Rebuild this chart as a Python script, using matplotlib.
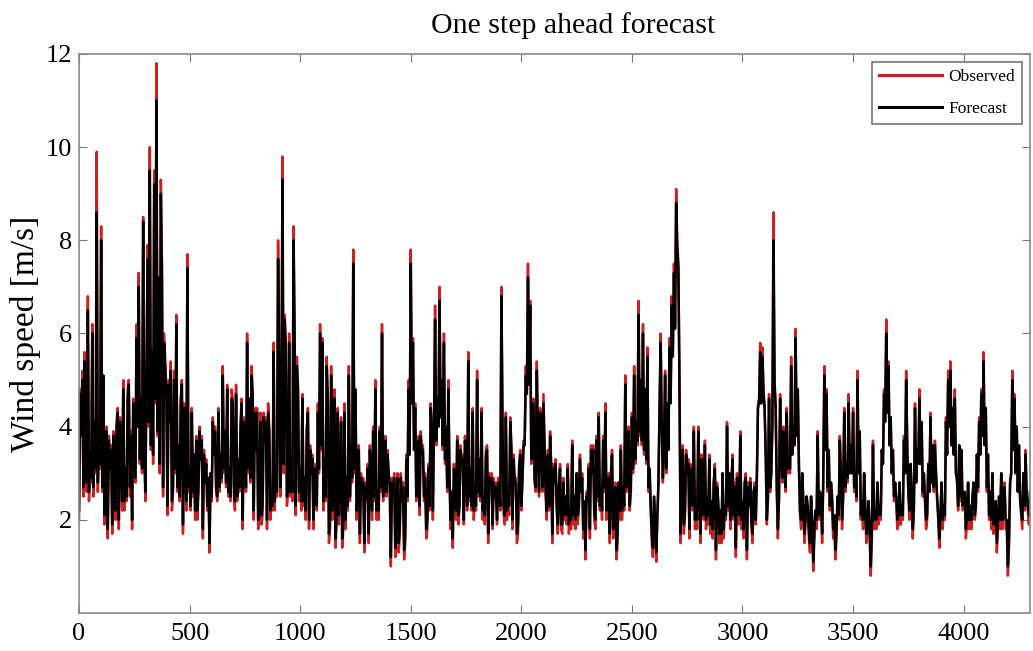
import numpy as np
import matplotlib
matplotlib.use('Agg')
import matplotlib.pyplot as plt

# readings every 10 time steps, plus the in-between readings at +5
step = 10

observed = [
    2.0, 4.0, 2.5, 4.6, 6.8, 3.2, 6.2, 4.0, 9.9, 3.5,
    8.3, 5.0, 2.4, 1.6, 3.2, 1.7, 3.0, 4.1, 1.8, 3.5,
    5.0, 3.0, 4.8, 2.5, 1.8, 3.8, 6.2, 7.3, 4.5, 8.5,
    2.4, 7.9, 10.0, 5.5, 9.5, 11.8, 7.0, 9.3, 2.5, 5.4,
    2.1, 4.2, 2.2, 5.2, 6.4, 3.5, 4.6, 1.7, 3.2, 7.7,
    3.0, 4.4, 3.3, 3.8, 2.6, 3.4, 1.6, 2.8, 2.2, 1.3,
    2.4, 3.5, 2.6, 4.4, 3.3, 5.3, 3.8, 4.9, 3.0, 4.8,
    2.6, 4.9, 3.2, 4.0, 1.8, 3.5, 6.0, 4.5, 5.3, 2.0,
    3.6, 1.8, 4.3, 2.1, 3.8, 1.8, 4.0, 2.4, 5.8, 3.0,
    8.0, 2.5, 9.8, 6.4, 2.3, 6.0, 3.0, 8.3, 2.1, 4.9,
    3.0, 4.7, 2.8, 4.0, 1.8, 3.0, 1.8, 2.8, 4.5, 6.2,
    5.9, 3.2, 5.5, 1.5, 5.3, 4.3, 1.4, 4.4, 2.8, 1.4,
    4.5, 2.8, 5.3, 3.5, 7.8, 4.7, 2.4, 1.5, 2.6, 1.3,
    2.4, 1.5, 3.0, 4.0, 5.0, 2.5, 4.0, 6.2, 3.3, 2.5,
    3.0, 1.0, 2.6, 1.2, 3.0, 1.6, 2.4, 1.15, 3.4, 5.0,
    7.8, 5.9, 4.5, 3.4, 2.1, 3.5, 2.4, 1.6, 3.2, 4.5,
    2.0, 6.6, 4.5, 7.0, 5.0, 6.0, 3.9, 5.0, 1.8, 1.4,
    2.8, 3.8, 2.2, 3.2, 1.9, 3.5, 5.6, 3.0, 4.4, 2.5,
    5.2, 3.2, 4.4, 2.4, 3.5, 1.5, 2.8, 1.8, 2.5, 1.9,
    2.6, 7.0, 2.1, 4.3, 2.5, 4.2, 1.8, 2.8, 1.5, 3.2,
    2.2, 3.7, 5.3, 7.5, 6.7, 4.4, 2.8, 5.4, 2.5, 4.0,
    4.7, 2.5, 3.5, 3.9, 1.5, 2.8, 2.2, 2.7, 1.8, 2.9,
    2.5, 3.2, 2.1, 3.7, 2.4, 3.0, 2.2, 2.6, 1.6, 1.15,
    2.4, 1.6, 3.1, 2.0, 3.8, 4.3, 2.6, 3.8, 4.5, 2.4,
    1.5, 3.5, 2.0, 1.15, 2.8, 3.6, 2.6, 5.1, 3.6, 2.2,
    4.3, 5.3, 4.0, 6.7, 5.0, 6.2, 4.8, 5.7, 3.0, 1.5,
    2.4, 1.1, 2.8, 6.0, 2.8, 5.2, 4.5, 5.9, 6.8, 7.5,
    9.1, 7.5, 1.5, 3.6, 2.1, 3.0, 1.6, 2.8, 4.0, 2.2,
    4.0, 1.5, 3.0, 3.7, 2.4, 3.4, 2.3, 2.8, 1.15, 2.4,
    2.1, 3.0, 2.2, 4.1, 3.0, 2.8, 2.0, 1.2, 2.6, 3.9,
    2.3, 2.8, 1.15, 2.3, 1.9, 2.6, 1.9, 4.5, 5.8, 5.7,
    4.4, 1.9, 4.7, 3.0, 8.6, 4.4, 1.6, 4.7, 2.8, 3.0,
    4.4, 3.2, 5.5, 4.0, 6.1, 4.8, 2.1, 3.0, 1.5, 2.5,
    1.6, 2.5, 0.9, 2.1, 3.9, 2.6, 1.5, 5.3, 4.8, 3.5,
    2.8, 1.6, 1.15, 2.5, 3.8, 1.8, 4.4, 3.2, 4.7, 3.6,
    4.4, 3.0, 5.2, 3.9, 2.3, 3.0, 1.5, 2.4, 0.8, 3.7,
    2.1, 2.8, 2.2, 3.5, 4.8, 6.3, 5.4, 4.2, 3.5, 2.8,
    1.8, 2.8, 2.2, 3.8, 5.2, 2.5, 3.2, 1.6, 4.5, 3.5,
    4.8, 4.1, 3.0, 1.8, 3.2, 4.3, 3.6, 3.7, 2.4, 1.4,
    2.8, 2.2, 4.2, 5.2, 5.4, 4.4, 4.8, 2.8, 3.6, 3.5,
    2.4, 1.6, 2.8, 2.2, 2.5, 2.0, 3.4, 4.2, 4.8, 5.6,
    4.4, 3.4, 2.5, 3.0, 2.0, 1.3, 2.5, 3.0, 2.5, 1.8,
    0.8, 2.8, 5.2, 4.7, 4.0, 3.6, 2.1, 3.0, 3.5, 2.2,
    2.6,
]

observed_mid = [
    4.8, 5.2, 5.6, 2.6, 2.4, 2.8, 2.5, 3.0, 2.6, 3.1,
    2.6, 1.9, 4.0, 3.8, 3.6, 3.9, 2.0, 4.4, 4.2, 2.2,
    2.2, 2.4, 5.0, 3.9, 4.6, 2.8, 4.0, 3.2, 3.0, 3.5,
    5.0, 4.0, 3.5, 3.2, 4.5, 3.8, 3.0, 7.5, 6.0, 4.8,
    5.0, 5.4, 2.6, 3.0, 2.6, 2.4, 5.0, 4.5, 2.2, 2.6,
    2.2, 2.5, 2.0, 2.0, 4.0, 3.8, 3.5, 3.3, 2.9, 3.0,
    4.2, 4.0, 2.4, 2.6, 2.8, 3.0, 2.7, 2.5, 2.4, 4.6,
    2.2, 2.4, 2.6, 4.6, 4.2, 2.6, 3.0, 2.8, 4.8, 4.4,
    4.4, 2.0, 1.9, 4.3, 4.2, 4.5, 2.0, 2.2, 2.2, 2.5,
    5.5, 4.0, 3.0, 5.8, 2.6, 2.5, 2.4, 6.0, 5.5, 2.4,
    2.2, 2.3, 2.0, 4.4, 3.6, 3.4, 3.2, 2.2, 3.0, 3.5,
    2.2, 2.4, 4.6, 1.8, 2.0, 4.8, 2.0, 1.9, 4.2, 1.8,
    1.8, 2.2, 2.4, 2.8, 3.0, 2.0, 3.6, 3.0, 2.9, 2.8,
    3.2, 3.6, 2.0, 2.4, 2.0, 2.0, 2.6, 2.4, 3.8, 3.5,
    2.8, 2.9, 3.0, 2.6, 1.3, 3.0, 2.8, 1.5, 2.4, 3.4,
    4.5, 3.5, 2.4, 3.8, 3.9, 3.6, 3.0, 1.8, 2.2, 4.0,
    4.0, 3.6, 4.0, 4.2, 3.5, 3.2, 2.6, 3.0, 2.6, 3.2,
    2.0, 1.9, 3.6, 3.4, 3.8, 2.2, 2.4, 2.2, 2.0, 2.2,
    2.5, 2.4, 2.0, 1.9, 3.6, 3.0, 3.0, 2.9, 2.8, 2.9,
    2.2, 4.0, 1.9, 2.0, 2.1, 3.6, 3.4, 2.9, 1.7, 3.5,
    2.8, 3.6, 4.8, 5.0, 3.2, 4.6, 2.6, 3.6, 4.4, 2.6,
    3.6, 2.0, 2.2, 3.2, 3.2, 3.3, 1.7, 3.2, 1.7, 2.0,
    1.9, 1.7, 1.8, 1.9, 1.8, 1.9, 3.4, 3.0, 2.4, 2.6,
    3.2, 3.6, 3.6, 1.8, 2.4, 2.2, 2.0, 2.6, 2.0, 3.0,
    3.0, 1.6, 2.8, 1.5, 2.0, 2.0, 2.2, 2.6, 4.0, 2.6,
    3.0, 3.2, 3.6, 3.8, 3.6, 3.4, 3.2, 2.6, 2.2, 1.2,
    1.8, 2.0, 4.5, 4.0, 3.6, 3.0, 3.5, 4.6, 5.6, 6.2,
    8.0, 5.0, 2.4, 1.7, 3.5, 3.3, 3.2, 2.2, 1.8, 1.8,
    3.0, 3.4, 2.0, 1.8, 1.9, 1.7, 1.6, 3.2, 2.8, 1.5,
    1.5, 1.6, 2.0, 2.2, 1.8, 3.4, 2.8, 3.0, 1.9, 1.8,
    1.6, 3.0, 2.8, 2.9, 1.5, 2.8, 3.0, 4.6, 4.5, 4.8,
    3.4, 2.4, 2.6, 4.0, 5.0, 2.6, 2.4, 3.4, 4.0, 2.6,
    3.0, 3.0, 3.4, 3.6, 3.8, 3.2, 1.8, 2.4, 1.9, 2.2,
    1.3, 1.8, 1.6, 1.8, 2.0, 2.4, 2.8, 3.5, 2.6, 2.2,
    2.4, 2.0, 1.6, 2.0, 3.0, 2.4, 2.6, 2.8, 3.0, 3.0,
    2.6, 2.4, 3.0, 2.0, 1.8, 2.2, 1.8, 1.6, 1.6, 1.8,
    1.8, 1.9, 2.0, 3.2, 4.2, 4.4, 3.6, 3.0, 2.4, 2.4,
    1.9, 1.9, 2.0, 3.0, 3.6, 2.0, 2.6, 2.2, 2.8, 3.2,
    3.2, 2.5, 2.4, 2.0, 2.6, 2.8, 2.6, 3.0, 2.0, 2.0,
    1.8, 2.0, 3.4, 4.0, 3.6, 3.4, 3.0, 2.2, 2.4, 2.2,
    2.6, 1.9, 1.8, 1.8, 2.8, 2.2, 2.6, 3.4, 3.8, 3.6,
    2.6, 2.0, 1.8, 1.7, 2.4, 1.8, 1.8, 1.8, 2.8, 1.8,
    1.4, 3.0, 3.6, 3.0, 2.6, 2.4, 1.8, 2.2, 2.4, 1.9,
]

forecast = [
    2.2, 3.8, 2.7, 4.4, 6.5, 3.4, 6.0, 4.1, 8.6, 3.7,
    8.0, 5.1, 2.6, 1.8, 3.1, 1.9, 2.9, 4.0, 2.0, 3.4,
    4.8, 3.1, 4.6, 2.7, 2.0, 3.7, 5.9, 7.0, 4.6, 8.4,
    2.6, 7.6, 9.5, 5.6, 9.2, 11.0, 7.2, 9.0, 2.7, 5.2,
    2.3, 4.1, 2.4, 5.0, 6.2, 3.6, 4.5, 1.9, 3.3, 7.4,
    3.1, 4.3, 3.4, 3.7, 2.7, 3.3, 1.8, 2.8, 2.3, 1.5,
    2.5, 3.4, 2.7, 4.3, 3.4, 5.1, 3.9, 4.8, 3.1, 4.6,
    2.8, 4.7, 3.3, 3.9, 2.0, 3.5, 5.8, 4.6, 5.1, 2.2,
    3.5, 2.0, 4.1, 2.3, 3.7, 2.0, 3.9, 2.5, 5.6, 3.1,
    7.6, 2.7, 9.3, 6.3, 2.5, 5.8, 3.1, 8.0, 2.3, 4.8,
    3.1, 4.6, 2.9, 3.9, 2.0, 3.0, 2.0, 2.8, 4.3, 6.0,
    5.8, 3.3, 5.3, 1.7, 5.1, 4.2, 1.6, 4.3, 2.9, 1.6,
    4.3, 2.9, 5.1, 3.6, 7.5, 4.8, 2.5, 1.7, 2.6, 1.5,
    2.5, 1.7, 3.0, 3.9, 4.8, 2.6, 3.9, 6.0, 3.4, 2.6,
    3.0, 1.2, 2.6, 1.4, 2.9, 1.8, 2.4, 1.35, 3.3, 4.8,
    7.5, 5.8, 4.4, 3.4, 2.3, 3.4, 2.5, 1.8, 3.1, 4.4,
    2.2, 6.3, 4.6, 6.7, 5.0, 5.8, 4.0, 4.8, 2.0, 1.6,
    2.8, 3.7, 2.3, 3.2, 2.0, 3.4, 5.4, 3.1, 4.3, 2.6,
    5.0, 3.3, 4.3, 2.5, 3.4, 1.7, 2.8, 1.9, 2.5, 2.0,
    2.6, 6.8, 2.3, 4.2, 2.6, 4.1, 2.0, 2.8, 1.7, 3.1,
    2.3, 3.6, 5.1, 7.2, 6.6, 4.5, 2.9, 5.2, 2.6, 3.9,
    4.5, 2.6, 3.4, 3.8, 1.7, 2.8, 2.3, 2.7, 1.9, 2.8,
    2.5, 3.1, 2.2, 3.6, 2.5, 3.0, 2.3, 2.6, 1.8, 1.35,
    2.4, 1.8, 3.0, 2.1, 3.7, 4.2, 2.7, 3.7, 4.3, 2.5,
    1.7, 3.4, 2.1, 1.35, 2.8, 3.5, 2.7, 4.9, 3.6, 2.3,
    4.2, 5.1, 4.1, 6.4, 5.0, 6.0, 4.8, 5.5, 3.1, 1.7,
    2.5, 1.3, 2.8, 5.8, 2.9, 5.1, 4.5, 5.7, 6.6, 7.3,
    8.8, 7.4, 1.7, 3.5, 2.2, 3.0, 1.8, 2.8, 3.9, 2.3,
    3.9, 1.7, 3.0, 3.6, 2.5, 3.3, 2.4, 2.8, 1.35, 2.4,
    2.2, 3.0, 2.3, 4.0, 3.0, 2.8, 2.1, 1.4, 2.6, 3.8,
    2.4, 2.8, 1.35, 2.3, 2.0, 2.6, 2.0, 4.4, 5.6, 5.5,
    4.4, 2.0, 4.6, 3.0, 8.0, 4.4, 1.8, 4.6, 2.9, 3.0,
    4.3, 3.2, 5.3, 4.0, 5.9, 4.8, 2.2, 3.0, 1.7, 2.5,
    1.8, 2.5, 1.1, 2.2, 3.8, 2.6, 1.7, 5.1, 4.7, 3.5,
    2.8, 1.8, 1.35, 2.5, 3.7, 2.0, 4.3, 3.2, 4.5, 3.6,
    4.3, 3.0, 5.0, 3.9, 2.4, 3.0, 1.7, 2.4, 1.0, 3.6,
    2.2, 2.8, 2.3, 3.5, 4.7, 6.0, 5.3, 4.2, 3.5, 2.8,
    2.0, 2.8, 2.3, 3.7, 5.0, 2.6, 3.2, 1.8, 4.4, 3.5,
    4.6, 4.1, 3.0, 2.0, 3.2, 4.2, 3.6, 3.6, 2.5, 1.6,
    2.8, 2.3, 4.1, 5.0, 5.2, 4.4, 4.6, 2.9, 3.6, 3.5,
    2.5, 1.8, 2.8, 2.3, 2.5, 2.1, 3.4, 4.1, 4.7, 5.4,
    4.4, 3.4, 2.6, 3.0, 2.1, 1.5, 2.5, 3.0, 2.5, 2.0,
    1.0, 2.8, 5.0, 4.6, 4.0, 3.6, 2.2, 3.0, 3.4, 2.3,
    2.6,
]

forecast_mid = [
    4.7, 5.0, 5.4, 2.8, 2.6, 2.9, 2.7, 3.1, 2.8, 3.2,
    2.7, 2.1, 3.9, 3.7, 3.5, 3.8, 2.2, 4.3, 4.1, 2.4,
    2.4, 2.5, 4.9, 3.8, 4.5, 2.9, 4.0, 3.3, 3.1, 3.6,
    5.0, 4.1, 3.6, 3.4, 4.6, 3.9, 3.2, 7.2, 5.8, 4.7,
    4.9, 5.2, 2.7, 3.1, 2.7, 2.5, 4.9, 4.4, 2.4, 2.7,
    2.3, 2.6, 2.2, 2.2, 3.9, 3.7, 3.4, 3.2, 2.9, 3.0,
    4.1, 3.9, 2.5, 2.7, 2.9, 3.1, 2.8, 2.6, 2.5, 4.5,
    2.4, 2.5, 2.7, 4.5, 4.1, 2.7, 3.1, 2.9, 4.6, 4.3,
    4.3, 2.2, 2.1, 4.2, 4.1, 4.3, 2.2, 2.3, 2.4, 2.6,
    5.3, 4.1, 3.2, 5.6, 2.7, 2.6, 2.6, 5.8, 5.3, 2.6,
    2.4, 2.4, 2.2, 4.3, 3.5, 3.3, 3.1, 2.3, 3.1, 3.6,
    2.4, 2.5, 4.5, 2.0, 2.2, 4.6, 2.2, 2.1, 4.1, 2.0,
    2.0, 2.3, 2.5, 2.9, 3.1, 2.2, 3.5, 2.9, 2.8, 2.7,
    3.1, 3.5, 2.2, 2.5, 2.2, 2.2, 2.7, 2.5, 3.7, 3.4,
    2.7, 2.8, 2.9, 2.5, 1.5, 2.9, 2.7, 1.7, 2.5, 3.4,
    4.5, 3.5, 2.5, 3.7, 3.8, 3.5, 2.9, 2.0, 2.3, 3.9,
    4.0, 3.7, 4.0, 4.2, 3.6, 3.3, 2.7, 3.0, 2.6, 3.1,
    2.2, 2.1, 3.5, 3.3, 3.7, 2.3, 2.5, 2.3, 2.2, 2.3,
    2.6, 2.5, 2.2, 2.1, 3.5, 2.9, 2.9, 2.8, 2.7, 2.8,
    2.3, 3.9, 2.1, 2.2, 2.3, 3.5, 3.3, 2.8, 1.9, 3.4,
    2.9, 3.6, 4.7, 4.9, 3.3, 4.5, 2.7, 3.6, 4.3, 2.7,
    3.5, 2.2, 2.3, 3.1, 3.1, 3.2, 1.9, 3.1, 1.9, 2.1,
    2.1, 1.9, 2.0, 2.1, 2.0, 2.1, 3.3, 2.9, 2.4, 2.5,
    3.1, 3.5, 3.5, 2.0, 2.5, 2.3, 2.2, 2.7, 2.2, 2.9,
    2.9, 1.8, 2.7, 1.7, 2.2, 2.2, 2.3, 2.7, 3.9, 2.7,
    3.1, 3.3, 3.7, 3.9, 3.7, 3.5, 3.3, 2.7, 2.3, 1.4,
    2.0, 2.1, 4.4, 4.0, 3.6, 3.1, 3.5, 4.5, 5.5, 6.1,
    7.8, 4.9, 2.5, 1.9, 3.4, 3.2, 3.1, 2.3, 2.0, 2.0,
    2.9, 3.3, 2.1, 2.0, 2.1, 1.9, 1.8, 3.1, 2.7, 1.7,
    1.7, 1.8, 2.1, 2.3, 2.0, 3.3, 2.7, 2.9, 2.1, 2.0,
    1.8, 2.9, 2.7, 2.8, 1.7, 2.7, 2.9, 4.5, 4.5, 4.7,
    3.4, 2.5, 2.7, 4.0, 4.9, 2.7, 2.5, 3.4, 3.9, 2.7,
    3.1, 3.1, 3.4, 3.6, 3.8, 3.2, 2.0, 2.4, 2.1, 2.3,
    1.5, 2.0, 1.8, 2.0, 2.1, 2.5, 2.8, 3.5, 2.7, 2.3,
    2.5, 2.1, 1.8, 2.1, 3.0, 2.5, 2.7, 2.9, 3.0, 3.0,
    2.7, 2.5, 3.0, 2.1, 2.0, 2.3, 2.0, 1.8, 1.8, 2.0,
    2.0, 2.1, 2.1, 3.2, 4.1, 4.3, 3.6, 3.0, 2.5, 2.5,
    2.1, 2.1, 2.1, 3.0, 3.5, 2.2, 2.6, 2.3, 2.8, 3.2,
    3.2, 2.6, 2.5, 2.1, 2.6, 2.8, 2.7, 3.0, 2.1, 2.1,
    2.0, 2.1, 3.4, 4.0, 3.6, 3.4, 3.0, 2.3, 2.5, 2.3,
    2.6, 2.1, 2.0, 2.0, 2.8, 2.3, 2.7, 3.4, 3.8, 3.6,
    2.7, 2.1, 2.0, 1.9, 2.4, 2.0, 2.0, 2.0, 2.7, 2.0,
    1.6, 3.0, 3.5, 3.0, 2.6, 2.5, 2.0, 2.3, 2.5, 2.1,
]

xticks = [0, 500, 1000, 1500, 2000, 2500, 3000, 3500, 4000]
yticks = [2, 4, 6, 8, 10, 12]

plt.rcParams['font.family'] = ['Liberation Serif', 'DejaVu Serif']

# put the readings and the in-between readings in time order
t = np.concatenate([np.arange(len(observed)) * step,
                    np.arange(len(observed_mid)) * step + step / 2])
order = np.argsort(t)
t = t[order]
obs = np.concatenate([observed, observed_mid])[order]
fc = np.concatenate([forecast, forecast_mid])[order]

fig = plt.figure(figsize=(10.33, 6.51), dpi=100)
ax = fig.add_axes([0.0765, 0.0584, 0.9206, 0.8587])

ax.plot(t, obs, color='#cc1f1f', lw=1.8, label='Observed')
ax.plot(t, fc, color='black', lw=1.8, label='Forecast')

ax.set_xlim(0, 4300)
ax.set_ylim(0, 12)
ax.set_xticks(xticks)
ax.set_yticks(yticks)
ax.tick_params(direction='in', top=True, right=True, length=6,
               color='#777777', labelsize=19, pad=7)
ax.tick_params(axis='y', pad=5)
for s in ax.spines.values():
    s.set_color('#888888')
    s.set_linewidth(1.2)

ax.set_title('One step ahead forecast', fontsize=21.5, pad=15, x=0.52)
ax.set_ylabel('Wind speed [m/s]', fontsize=24, labelpad=3)

leg = ax.legend(loc='upper right', fontsize=12.5, fancybox=False,
                edgecolor='#777777', framealpha=1, handlelength=3.6,
                labelspacing=0.9, borderaxespad=0.45, handletextpad=0.4)
leg.get_frame().set_linewidth(1.2)
for ln in leg.get_lines():
    ln.set_linewidth(2.2)

fig.savefig('out.png', dpi=100)
